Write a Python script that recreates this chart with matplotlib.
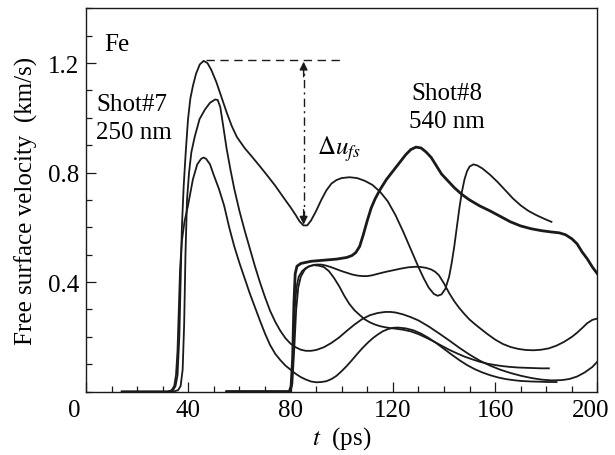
import matplotlib
matplotlib.use("Agg")
import matplotlib.pyplot as plt
from matplotlib.transforms import ScaledTranslation

plt.rcParams['font.family'] = ['Liberation Serif', 'DejaVu Serif']
plt.rcParams['mathtext.fontset'] = 'stix'

# Shot#7 (250 nm)
tA = [14, 32, 34, 35, 35.8, 36.5, 37, 37.5, 38.2, 39, 39.9, 40.8, 41.8, 43, 44.5, 46, 47.5, 49, 51, 53, 55, 57, 59, 62, 65, 68, 71, 74, 77, 80, 82, 83.5, 85, 86.5, 88, 90, 92, 94, 96, 98, 100, 103, 106, 109, 112, 115, 118, 121, 124, 127, 130, 132, 134, 136, 137.5, 139, 140.5, 142, 143, 144, 145, 146, 147, 148, 149, 150, 151.5, 153, 155, 158, 161, 164, 167, 170, 173, 176, 179, 182]
uA = [0, 0, 0.005, 0.02, 0.06, 0.2, 0.4, 0.6, 0.75, 0.874, 0.995, 1.07, 1.116, 1.16, 1.195, 1.208, 1.2, 1.175, 1.13, 1.075, 1.02, 0.97, 0.93, 0.89, 0.857, 0.823, 0.788, 0.752, 0.712, 0.673, 0.645, 0.622, 0.607, 0.607, 0.625, 0.66, 0.7, 0.735, 0.76, 0.773, 0.78, 0.783, 0.78, 0.77, 0.755, 0.73, 0.695, 0.645, 0.585, 0.52, 0.455, 0.415, 0.38, 0.357, 0.35, 0.355, 0.375, 0.42, 0.47, 0.53, 0.6, 0.67, 0.73, 0.775, 0.805, 0.822, 0.83, 0.826, 0.815, 0.792, 0.765, 0.735, 0.705, 0.68, 0.66, 0.645, 0.632, 0.62]

tB = [14, 34, 36, 37, 37.8, 38.4, 38.9, 39.5, 40.3, 41.2, 42.5, 44.4, 46.5, 48.5, 50.5, 51.5, 52.5, 53.5, 55, 56.5, 58, 60, 62, 64, 66, 68, 70, 72, 74, 76, 78, 80, 82, 84, 86, 88, 90, 93, 96, 99, 102, 105, 108, 111, 114, 117, 119, 121, 124, 127, 130, 134, 138, 142, 146, 150, 154, 158, 162, 166, 170, 174, 178, 182, 186, 189, 192, 195, 198, 200]
uB = [0, 0, 0.005, 0.02, 0.08, 0.25, 0.5, 0.7, 0.8, 0.874, 0.93, 0.995, 1.03, 1.055, 1.067, 1.065, 1.04, 0.98, 0.887, 0.81, 0.74, 0.66, 0.59, 0.525, 0.46, 0.4, 0.345, 0.295, 0.255, 0.222, 0.195, 0.175, 0.162, 0.153, 0.149, 0.149, 0.152, 0.162, 0.178, 0.198, 0.222, 0.245, 0.265, 0.279, 0.287, 0.291, 0.291, 0.289, 0.282, 0.272, 0.26, 0.238, 0.213, 0.187, 0.16, 0.135, 0.113, 0.095, 0.08, 0.068, 0.058, 0.05, 0.044, 0.041, 0.042, 0.046, 0.055, 0.07, 0.09, 0.11]

tC = [14, 32, 33.5, 34.5, 35.2, 35.8, 36.3, 36.8, 37.5, 38.5, 39.9, 41.8, 43.5, 45, 46, 47, 48.5, 50, 52, 54, 56, 58, 60, 62, 64, 66, 68, 70, 72, 74, 76, 78, 80, 82, 84, 86, 88, 90, 92, 94, 96, 98, 100, 102, 104, 106, 108, 110, 112, 114, 116, 118, 120, 122, 125, 128, 131, 134, 137, 140, 143, 146, 149, 152, 155, 158, 161, 164, 167, 170, 174, 178, 181, 184]
uC = [0, 0, 0.005, 0.02, 0.06, 0.15, 0.3, 0.45, 0.55, 0.62, 0.68, 0.775, 0.83, 0.85, 0.855, 0.85, 0.83, 0.79, 0.74, 0.68, 0.6, 0.53, 0.47, 0.415, 0.36, 0.31, 0.26, 0.212, 0.17, 0.138, 0.115, 0.095, 0.08, 0.065, 0.053, 0.044, 0.037, 0.034, 0.035, 0.038, 0.046, 0.058, 0.075, 0.094, 0.115, 0.137, 0.158, 0.177, 0.194, 0.208, 0.22, 0.228, 0.233, 0.234, 0.231, 0.224, 0.212, 0.196, 0.177, 0.156, 0.135, 0.115, 0.097, 0.082, 0.07, 0.06, 0.052, 0.046, 0.042, 0.039, 0.037, 0.036, 0.035, 0.035]

# Shot#8 (540 nm)
tD = [55, 79.5, 80.2, 80.8, 81.3, 81.8, 82.5, 84, 88, 93, 98, 102, 104, 105.5, 107, 108.5, 110, 111.5, 113, 115, 117.5, 120, 122.5, 125, 127, 129, 131, 133, 135, 137, 139, 141, 144, 147, 150, 154, 158, 162, 166, 170, 174, 178, 182, 185, 187.5, 190, 192, 194, 196, 198, 200]
uD = [0, 0, 0.02, 0.12, 0.32, 0.43, 0.458, 0.468, 0.476, 0.48, 0.484, 0.49, 0.497, 0.508, 0.53, 0.575, 0.625, 0.67, 0.703, 0.738, 0.775, 0.805, 0.835, 0.865, 0.884, 0.893, 0.89, 0.875, 0.855, 0.825, 0.795, 0.775, 0.745, 0.72, 0.7, 0.678, 0.66, 0.64, 0.62, 0.605, 0.595, 0.588, 0.583, 0.58, 0.573, 0.558, 0.54, 0.51, 0.485, 0.455, 0.43]

tE = [55, 79.8, 80.4, 81, 81.6, 82.3, 83.2, 84.5, 86, 88, 90, 92, 94, 96, 98, 100, 102, 104, 106, 108, 110, 112, 114, 117, 120, 123, 126, 129, 131, 133, 135, 136.5, 138, 140, 142, 144, 146, 148, 150, 152, 154, 157, 160, 163, 166, 169, 172, 175, 178, 181, 184, 187, 190, 192, 194, 196, 198, 200]
uE = [0, 0, 0.03, 0.15, 0.3, 0.38, 0.42, 0.44, 0.452, 0.46, 0.464, 0.464, 0.46, 0.454, 0.447, 0.44, 0.434, 0.428, 0.424, 0.422, 0.422, 0.425, 0.43, 0.437, 0.443, 0.449, 0.454, 0.456, 0.455, 0.452, 0.446, 0.438, 0.425, 0.395, 0.36, 0.33, 0.305, 0.283, 0.263, 0.247, 0.232, 0.21, 0.19, 0.174, 0.163, 0.156, 0.152, 0.151, 0.153, 0.158, 0.168, 0.182, 0.2, 0.215, 0.232, 0.25, 0.262, 0.267]

tF = [55, 80, 80.7, 81.4, 82.2, 83, 84, 85.5, 87, 89, 91, 93, 95, 97, 99, 101, 103, 105, 107, 109, 111, 113, 115, 117, 119, 121, 124, 127, 130, 133, 136, 139, 142, 145, 148, 151, 154, 157, 160, 163, 166, 169, 172, 175, 178, 181]
uF = [0, 0, 0.03, 0.15, 0.3, 0.38, 0.42, 0.445, 0.457, 0.462, 0.46, 0.455, 0.44, 0.415, 0.385, 0.35, 0.32, 0.297, 0.28, 0.264, 0.253, 0.245, 0.239, 0.235, 0.232, 0.23, 0.226, 0.22, 0.21, 0.197, 0.183, 0.168, 0.153, 0.14, 0.128, 0.118, 0.109, 0.102, 0.097, 0.093, 0.09, 0.088, 0.087, 0.086, 0.085, 0.085]

xticks = [0, 40, 80, 120, 160, 200]
yticks = [0.4, 0.8, 1.2]

fig = plt.figure(figsize=(6.15, 4.56), dpi=100)
ax = fig.add_axes([0.1398, 0.139, 0.8317, 0.8406])

col = '#1a1a1a'
lw = 1.3
ax.plot(tA, uA, color=col, lw=lw)
ax.plot(tB, uB, color=col, lw=lw)
ax.plot(tC, uC, color=col, lw=lw)
ax.plot(tD, uD, color=col, lw=2.0)
ax.plot(tE, uE, color=col, lw=lw)
ax.plot(tF, uF, color=col, lw=lw)

# annotations
ax.plot([47, 100], [1.21, 1.21], color=col, lw=1.0, ls=(0, (6, 4)))
ax.plot([85.1, 85.1], [0.63, 1.18], color=col, lw=1.0, ls=(0, (6, 3, 1.5, 3)))
ax.annotate('', xy=(85.1, 1.205), xytext=(85.1, 1.15),
            arrowprops=dict(arrowstyle='-|>', color=col, lw=1.0, mutation_scale=12, shrinkA=0, shrinkB=0))
ax.annotate('', xy=(85.1, 0.61), xytext=(85.1, 0.665),
            arrowprops=dict(arrowstyle='-|>', color=col, lw=1.0, mutation_scale=12, shrinkA=0, shrinkB=0))

ax.text(90.5, 0.89, r'$\Delta u_{fs}$', fontsize=18, ha='left', va='center')
ax.text(7, 1.27, 'Fe', fontsize=18, ha='left', va='center')
ax.text(4, 1.05, 'Shot#7', fontsize=18, ha='left', va='center')
ax.text(4, 0.95, '250 nm', fontsize=18, ha='left', va='center')
ax.text(141, 1.09, 'Shot#8', fontsize=18, ha='center', va='center')
ax.text(141, 0.99, '540 nm', fontsize=18, ha='center', va='center')

ax.set_xlim(0, 200)
ax.set_ylim(0, 1.4)
ax.set_xticks(xticks)
ax.set_xticklabels([str(v) for v in xticks])
ax.set_yticks(yticks)
ax.set_yticklabels([f'{v:.1f}' for v in yticks])
ax.set_xticks(range(0, 201, 10), minor=True)
ax.set_yticks([i / 10 for i in range(0, 15)], minor=True)
ax.tick_params(which='both', direction='in', top=False, right=False, labelsize=18, width=0.9, color=col)
ax.tick_params(axis='x', which='major', pad=5.5)
ax.tick_params(axis='y', which='major', pad=5)
ax.tick_params(which='major', length=7.5)
ax.tick_params(which='minor', length=4)
for s in ax.spines.values():
    s.set_linewidth(1.0)
    s.set_color(col)

xl = ax.get_xticklabels()
xl[0].set_transform(xl[0].get_transform() + ScaledTranslation(-0.12, 0, fig.dpi_scale_trans))
xl[-1].set_transform(xl[-1].get_transform() + ScaledTranslation(-0.07, 0, fig.dpi_scale_trans))

ax.set_xlabel(r'$t$  (ps)', fontsize=18, labelpad=2)
ax.set_ylabel('Free surface velocity  (km/s)', fontsize=18, labelpad=7)

fig.savefig('out.png', dpi=100)
